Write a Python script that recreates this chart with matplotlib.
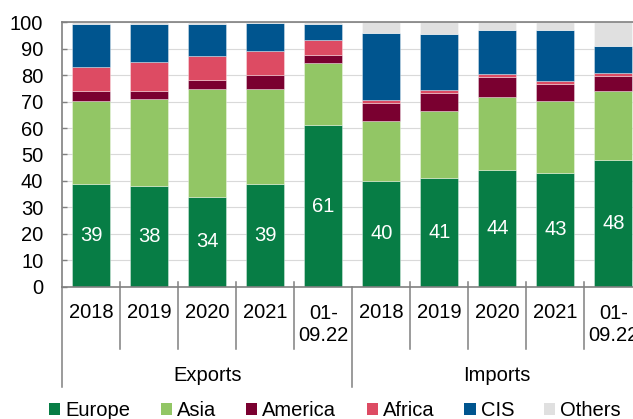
import matplotlib
matplotlib.use("Agg")
import matplotlib.pyplot as plt
from matplotlib.patches import Patch

plt.rcParams["font.family"] = ["Liberation Sans", "DejaVu Sans"]

# Categories
periods = ["2018", "2019", "2020", "2021", "01-\n09.22"]
groups = ["Exports", "Imports"]
regions = ["Europe", "Asia", "America", "Africa", "CIS", "Others"]

# Shares by region, % (exports 5 periods, then imports 5 periods)
europe = [39, 38, 34, 39, 61, 40, 41, 44, 43, 48]
asia = [31.1, 32.9, 40.9, 35.9, 23.5, 22.7, 25.5, 27.8, 27.2, 26.0]
america = [3.8, 3.2, 3.3, 5.2, 3.1, 6.9, 6.9, 7.5, 6.6, 5.7]
africa = [9.2, 10.8, 9.1, 8.9, 5.7, 0.9, 1.0, 1.2, 1.0, 1.1]
cis = [16.3, 14.5, 12.1, 10.8, 6.1, 25.3, 21.2, 16.7, 19.4, 10.4]
others = [0.6, 0.6, 0.6, 0.2, 0.6, 4.2, 4.4, 2.8, 2.8, 8.8]

series = [europe, asia, america, africa, cis, others]
colors = ["#077d45", "#92c665", "#7a0030", "#dd4b63", "#00558f", "#e0e0e0"]

W, H = 633, 419
fig = plt.figure(figsize=(W / 100, H / 100), dpi=100)
ax = fig.add_axes([62.3 / W, 132.3 / H, 580 / W, 264.4 / H])

n = len(europe)
xs = list(range(n))
bottoms = [0.0] * n
for vals, col in zip(series, colors):
    ax.bar(xs, vals, width=0.66, bottom=bottoms, color=col,
           edgecolor=(1, 1, 1, 0.5), linewidth=0.5, zorder=2)
    bottoms = [b + v for b, v in zip(bottoms, vals)]

fs = 14.5
for x, v in zip(xs, europe):
    ax.text(x, v / 2, f"{v:.0f}", ha="center", va="center",
            color="white", fontsize=fs, zorder=3)

ax.set_xlim(-0.5, n - 0.5)
ax.set_ylim(0, 100)
ax.set_yticks(range(0, 101, 10))
ax.tick_params(axis="y", direction="in", length=3.5, color="#808080",
               width=1.0, pad=13.7, labelsize=fs, labelcolor="black")
ax.set_xticks([])

ax.yaxis.grid(True, color="#d9d9d9", linewidth=0.8)
ax.set_axisbelow(True)
for side in ["left", "top", "bottom"]:
    ax.spines[side].set_color("#808080")
    ax.spines[side].set_linewidth(1.2)
ax.spines["right"].set_visible(False)

# Two-level category axis
trans = ax.get_xaxis_transform()
ph = 264.4
for g in range(len(groups)):
    for k, p in enumerate(periods):
        x = g * len(periods) + k
        y = -(312.2 - 286.7) / ph if "\n" not in p else -(324.3 - 286.7) / ph
        ax.text(x, y, p, transform=trans, ha="center", va="center",
                fontsize=fs, color="black", linespacing=1.2)
    ax.text(g * len(periods) + (len(periods) - 1) / 2, -(375 - 286.7) / ph,
            groups[g], transform=trans, ha="center", va="center",
            fontsize=fs, color="black")

for b in range(n + 1):
    xb = b - 0.5
    if b % len(periods) == 0:
        y0, y1 = 0.0, -(387 - 286.7) / ph
    else:
        y0, y1 = 5 / ph, -(349 - 286.7) / ph
    ax.plot([xb, xb], [y0, y1], transform=trans, color="#808080",
            linewidth=1.1, clip_on=False, zorder=4)

handles = [Patch(facecolor=c, edgecolor="none") for c in colors]
fig.legend(handles, regions, loc="center left",
           bbox_to_anchor=(49.3 / W, 1 - 410.5 / H), ncol=6, frameon=False,
           fontsize=fs, borderpad=0, borderaxespad=0, handlelength=0.55,
           handleheight=0.55, handletextpad=0.25, columnspacing=1.5)

fig.savefig("out.png", dpi=100)
